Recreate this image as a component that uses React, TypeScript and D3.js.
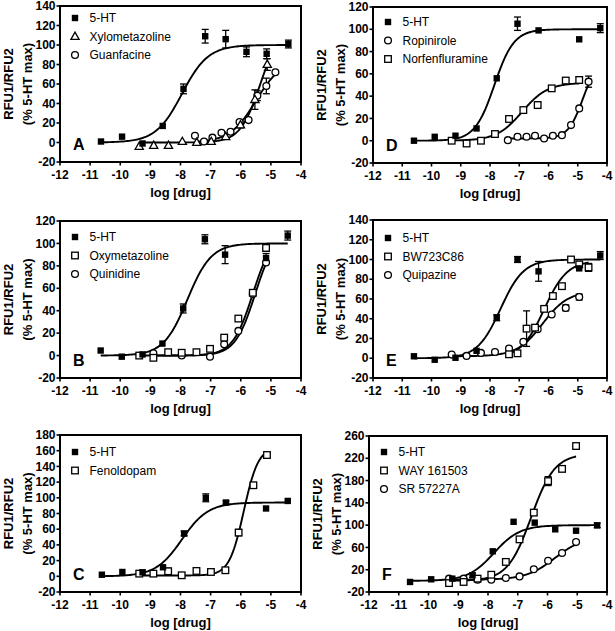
import React from 'react';
import * as d3 from 'd3';

// ---------- Data (log [drug] vs % 5-HT max) ----------
// Panel A
const aHtX = [-10.64, -9.94, -9.26, -8.59, -7.9, -7.18, -6.5, -5.81, -5.14, -4.42];
const aHtY = [1, 6, -1, 17, 55, 109, 106, 93, 91, 101];
const aHtE = [0, 0, 0, 0, 5, 7, 9, 5, 5, 4];
const aHtFit = [0, 100, -7.95, 1];
const aXyX = [-9.37, -8.89, -8.4, -7.94, -7.46, -6.98, -6.5, -6.01, -5.53, -5.12];
const aXyY = [-4, -3, -3, 1, 0, 1, 6, 18, 44, 80];
const aXyE = [0, 0, 0, 0, 0, 0, 0, 3, 10, 6];
const aXyFit = [0, 120, -5.35, 1.3];
const aGuX = [-7.52, -7.22, -6.94, -6.64, -6.34, -6.04, -5.74, -5.45, -5.15, -4.85];
const aGuY = [7, 1, 5, 10, 11, 21, 23, 48, 58, 72];
const aGuE = [0, 0, 0, 0, 0, 0, 0, 5, 8, 0];
const aGuFit = [0, 86, -5.49, 1];

// Panel B
const bHtX = [-10.65, -9.95, -9.26, -8.6, -7.91, -7.19, -6.52, -5.16, -4.44];
const bHtY = [4.5, -1, 1, 10.7, 42, 103.7, 90, 87, 107];
const bHtE = [0, 0, 0, 0, 4, 4, 8, 4, 4];
const bHtFit = [0, 100, -7.77, 1.1];
const bOxX = [-9.37, -8.9, -8.41, -7.96, -7.47, -7.02, -6.55, -6.08, -5.6, -5.16];
const bOxY = [0, -2, 3, 2.5, 3, 6, 16, 33, 56, 96];
const bOxE = [0, 0, 0, 0, 0, 0, 0, 0, 0, 3];
const bOxFit = [0, 110, -5.6, 1.3];
const bQuX = [-8.9, -7.96, -7.02, -6.55, -6.08, -5.6, -5.16];
const bQuY = [2, 0, -1, 10, 22, 55, 83];
const bQuE = [0, 0, 0, 0, 0, 0, 0];
const bQuFit = [0, 110, -5.52, 1.3];

// Panel C
const cHtX = [-10.61, -9.93, -9.26, -8.58, -7.88, -7.16, -6.49, -5.16, -4.44];
const cHtY = [2, 5.5, 5, 11.5, 54.5, 100, 94, 86.4, 96];
const cHtE = [0, 0, 3, 0, 3, 5, 2, 0, 0];
const cHtFit = [0, 94, -7.95, 1];
const cFeX = [-9.37, -8.9, -8.41, -7.96, -7.47, -6.99, -6.51, -6.07, -5.58, -5.13];
const cFeY = [3.4, 3.4, 6.4, 1.3, 6.8, 5.5, 7.7, 55.7, 116, 154.5];
const cFeE = [0, 0, 4, 3, 0, 0, 3, 4, 3, 3];
const cFeFit = [1, 165, -5.9, 1.8];

// Panel D
const dHtX = [-10.6, -9.89, -9.18, -8.46, -7.77, -7.06, -6.34, -4.95, -4.23];
const dHtY = [0, 3.5, 4.5, 11, 56, 105, 99, 91, 101];
const dHtE = [0, 0, 0, 0, 0, 6, 0, 0, 4];
const dHtFit = [0, 100, -7.85, 1.3];
const dRoX = [-7.39, -7.06, -6.75, -6.46, -6.15, -5.85, -5.54, -5.23, -4.95, -4.63];
const dRoY = [0.5, 3.5, 3.5, 4.5, 2, 4.5, 5, 14, 29, 53];
const dRoE = [0, 0, 0, 0, 0, 0, 0, 0, 0, 5];
const dRoFit = [2, 74, -4.82, 1.7];
const dNoX = [-9.31, -8.8, -8.31, -7.83, -7.35, -6.86, -6.37, -5.89, -5.41, -4.95];
const dNoY = [0, -2.5, 0, 6, 19.5, 27.5, 32, 47, 54, 54.5];
const dNoE = [0, 0, 0, 0, 0, 0, 3, 0, 0, 3];
const dNoFit = [0, 52, -6.9, 1];

// Panel E
const eHtX = [-10.6, -9.89, -9.18, -8.46, -7.77, -7.06, -6.34, -4.95, -4.23];
const eHtY = [2, -1.5, 0.5, 7.5, 41, 100, 88, 91, 104];
const eHtE = [0, 0, 0, 0, 3, 3, 10, 0, 4];
const eHtFit = [0, 100, -7.64, 1.1];
const eBwX = [-7.35, -7.06, -6.75, -6.46, -6.15, -5.85, -5.54, -5.23, -4.95, -4.63];
const eBwY = [4, 5, 30, 31, 50, 63, 73, 100, 95, 92];
const eBwE = [0, 0, 18, 0, 0, 0, 0, 0, 0, 4];
const eBwFit = [0, 99, -6.15, 1.1];
const eQpX = [-9.31, -8.8, -8.31, -7.83, -7.35, -6.86, -6.37, -5.89, -5.41, -4.95];
const eQpY = [3.7, 2.4, 5.4, 6.4, 9.8, 16.6, 29.4, 44.3, 51, 62];
const eQpE = [0, 0, 0, 0, 0, 0, 0, 0, 3, 3];
const eQpFit = [2, 68, -6.2, 1];

// Panel F
const fHtX = [-10.62, -9.91, -9.2, -8.52, -7.84, -7.14, -6.43, -5.74, -5.04, -4.33];
const fHtY = [-2, 2.8, 4, 10, 53, 106, 104.5, 92.5, 90, 99.6];
const fHtE = [0, 0, 0, 4, 0, 0, 0, 0, 0, 4];
const fHtFit = [0, 100, -7.8, 1];
const fWaX = [-9.31, -8.82, -8.35, -7.89, -7.4, -6.94, -6.46, -5.98, -5.51, -5.04];
const fWaY = [-4, -2, 4, 11, 34, 74.5, 122.5, 179, 201, 242];
const fWaE = [0, 0, 0, 0, 0, 0, 5, 8, 5, 0];
const fWaFit = [0, 228, -6.55, 1.1];
const fSrX = [-9.31, -8.82, -8.35, -7.89, -7.4, -6.94, -6.46, -5.98, -5.51, -5.04];
const fSrY = [4, 4, 2, 2, 5, 8, 20.7, 36, 50, 69.6];
const fSrE = [0, 0, 0, 0, 0, 0, 0, 0, 0, 0];
const fSrFit = [2, 80, -5.75, 0.9];

const xTicks = [-12, -11, -10, -9, -8, -7, -6, -5, -4];

type MarkerType = 'fsq' | 'osq' | 'ocirc' | 'otri';
interface Series { name: string; marker: MarkerType; x: number[]; y: number[]; e: number[]; fit: number[]; }
interface Panel { id: string; left: number; right: number; top: number; bottom: number; yDomain: [number, number]; yStep: number; legendTop: number; series: Series[]; }

const s = (name: string, marker: MarkerType, x: number[], y: number[], e: number[], fit: number[]): Series => ({ name, marker, x, y, e, fit });

const panels: Panel[] = [
  { id: 'A', left: 60, right: 301, top: 6, bottom: 162, yDomain: [-20, 140], yStep: 20, legendTop: 12,
    series: [s('5-HT', 'fsq', aHtX, aHtY, aHtE, aHtFit), s('Xylometazoline', 'otri', aXyX, aXyY, aXyE, aXyFit), s('Guanfacine', 'ocirc', aGuX, aGuY, aGuE, aGuFit)] },
  { id: 'B', left: 60, right: 301, top: 221, bottom: 378, yDomain: [-20, 120], yStep: 20, legendTop: 16,
    series: [s('5-HT', 'fsq', bHtX, bHtY, bHtE, bHtFit), s('Oxymetazoline', 'osq', bOxX, bOxY, bOxE, bOxFit), s('Quinidine', 'ocirc', bQuX, bQuY, bQuE, bQuFit)] },
  { id: 'C', left: 60, right: 301, top: 435, bottom: 592, yDomain: [-20, 180], yStep: 20, legendTop: 17,
    series: [s('5-HT', 'fsq', cHtX, cHtY, cHtE, cHtFit), s('Fenoldopam', 'osq', cFeX, cFeY, cFeE, cFeFit)] },
  { id: 'D', left: 373, right: 607, top: 7, bottom: 163, yDomain: [-20, 120], yStep: 20, legendTop: 15,
    series: [s('5-HT', 'fsq', dHtX, dHtY, dHtE, dHtFit), s('Ropinirole', 'ocirc', dRoX, dRoY, dRoE, dRoFit), s('Norfenfluramine', 'osq', dNoX, dNoY, dNoE, dNoFit)] },
  { id: 'E', left: 373, right: 607, top: 220, bottom: 378, yDomain: [-20, 140], yStep: 20, legendTop: 18,
    series: [s('5-HT', 'fsq', eHtX, eHtY, eHtE, eHtFit), s('BW723C86', 'osq', eBwX, eBwY, eBwE, eBwFit), s('Quipazine', 'ocirc', eQpX, eQpY, eQpE, eQpFit)] },
  { id: 'F', left: 369, right: 607, top: 436, bottom: 592, yDomain: [-20, 260], yStep: 40, legendTop: 16,
    series: [s('5-HT', 'fsq', fHtX, fHtY, fHtE, fHtFit), s('WAY 161503', 'osq', fWaX, fWaY, fWaE, fWaFit), s('SR 57227A', 'ocirc', fSrX, fSrY, fSrE, fSrFit)] },
];

const FONT = 'Arial, "Liberation Sans", Helvetica, sans-serif';

function logistic(fit: number[], x: number) {
  const [bottom, top, ec50, hill] = fit;
  return bottom + (top - bottom) / (1 + Math.pow(10, hill * (ec50 - x)));
}

function Marker({ type, x, y }: { type: MarkerType; x: number; y: number }) {
  if (type === 'fsq') return <rect x={x - 3.2} y={y - 3.2} width={6.4} height={6.4} fill="#000" />;
  if (type === 'osq') return <rect x={x - 3.3} y={y - 3.3} width={6.6} height={6.6} fill="#fff" stroke="#000" strokeWidth={1.3} />;
  if (type === 'ocirc') return <circle cx={x} cy={y} r={3.4} fill="#fff" stroke="#000" strokeWidth={1.3} />;
  const h = 7.2;
  const pts = `${x},${y - h * 0.6} ${x - 4.1},${y + h * 0.4} ${x + 4.1},${y + h * 0.4}`;
  return <polygon points={pts} fill="#fff" stroke="#000" strokeWidth={1.3} strokeLinejoin="miter" />;
}

function PanelView({ p }: { p: Panel }) {
  const xs = d3.scaleLinear().domain([-12, -4]).range([p.left, p.right]);
  const ys = d3.scaleLinear().domain(p.yDomain).range([p.bottom, p.top]);
  const yTicks = d3.range(p.yDomain[0], p.yDomain[1] + 1, p.yStep);
  const midY = (p.top + p.bottom) / 2;
  const midX = (p.left + p.right) / 2;
  return (
    <g>
      {p.series.map((se, i) => {
        const [x0, x1] = d3.extent(se.x) as [number, number];
        const n = 120;
        const pts = d3.range(n + 1).map((k) => x0 + ((x1 - x0) * k) / n);
        const path = d3.line<number>().x((d) => xs(d)).y((d) => ys(logistic(se.fit, d)))(pts) || '';
        return <path key={'c' + i} d={path} fill="none" stroke="#000" strokeWidth={1.9} />;
      })}
      {p.series.map((se, i) => (
        <g key={'e' + i}>
          {se.x.map((xv, k) => se.e[k] > 0 ? (
            <g key={k} stroke="#000" strokeWidth={1.3}>
              <line x1={xs(xv)} x2={xs(xv)} y1={ys(se.y[k] - se.e[k])} y2={ys(se.y[k] + se.e[k])} />
              <line x1={xs(xv) - 3.5} x2={xs(xv) + 3.5} y1={ys(se.y[k] + se.e[k])} y2={ys(se.y[k] + se.e[k])} />
              <line x1={xs(xv) - 3.5} x2={xs(xv) + 3.5} y1={ys(se.y[k] - se.e[k])} y2={ys(se.y[k] - se.e[k])} />
            </g>
          ) : null)}
        </g>
      ))}
      {p.series.slice().reverse().map((se, i) => (
        <g key={'m' + i}>
          {se.x.map((xv, k) => <Marker key={k} type={se.marker} x={xs(xv)} y={ys(se.y[k])} />)}
        </g>
      ))}
      <rect x={p.left} y={p.top} width={p.right - p.left} height={p.bottom - p.top} fill="none" stroke="#000" strokeWidth={2} />
      {yTicks.map((t) => (
        <g key={'y' + t}>
          <line x1={p.left - 3.5} x2={p.left} y1={ys(t)} y2={ys(t)} stroke="#000" strokeWidth={1.6} />
          <text x={p.left - 4.5} y={ys(t) + 4.2} textAnchor="end" fontFamily={FONT} fontWeight="bold" fontSize={12}>{t}</text>
        </g>
      ))}
      {xTicks.map((t) => (
        <g key={'x' + t}>
          <line x1={xs(t)} x2={xs(t)} y1={p.bottom} y2={p.bottom + 3.5} stroke="#000" strokeWidth={1.6} />
          <text x={xs(t)} y={p.bottom + 16.5} textAnchor="middle" fontFamily={FONT} fontWeight="bold" fontSize={12}>{t}</text>
        </g>
      ))}
      <text x={midX} y={p.bottom + 34.5} textAnchor="middle" fontFamily={FONT} fontWeight="bold" fontSize={13}>log [drug]</text>
      <text transform={`translate(${p.left - 52},${midY}) rotate(-90)`} textAnchor="middle" dominantBaseline="central" fontFamily={FONT} fontWeight="bold" fontSize={13}>RFU1/RFU2</text>
      <text transform={`translate(${p.left - 33},${midY}) rotate(-90)`} textAnchor="middle" dominantBaseline="central" fontFamily={FONT} fontWeight="bold" fontSize={13}>(% 5-HT max)</text>
      {p.series.map((se, i) => {
        const ly = p.top + p.legendTop + i * 18.5;
        return (
          <g key={'l' + i}>
            <Marker type={se.marker} x={p.left + 15} y={ly} />
            <text x={p.left + 29.5} y={ly + 4.3} fontFamily={FONT} fontSize={12}>{se.name}</text>
          </g>
        );
      })}
      <text x={p.left + 13} y={p.bottom - 12.5} fontFamily={FONT} fontWeight="bold" fontSize={16}>{p.id}</text>
    </g>
  );
}

export default function App() {
  return (
    <svg width={615} height={631} style={{ position: 'absolute', left: 0, top: 0, background: '#fff' }}>
      <rect width={615} height={631} fill="#fff" />
      {panels.map((p) => <PanelView key={p.id} p={p} />)}
    </svg>
  );
}
